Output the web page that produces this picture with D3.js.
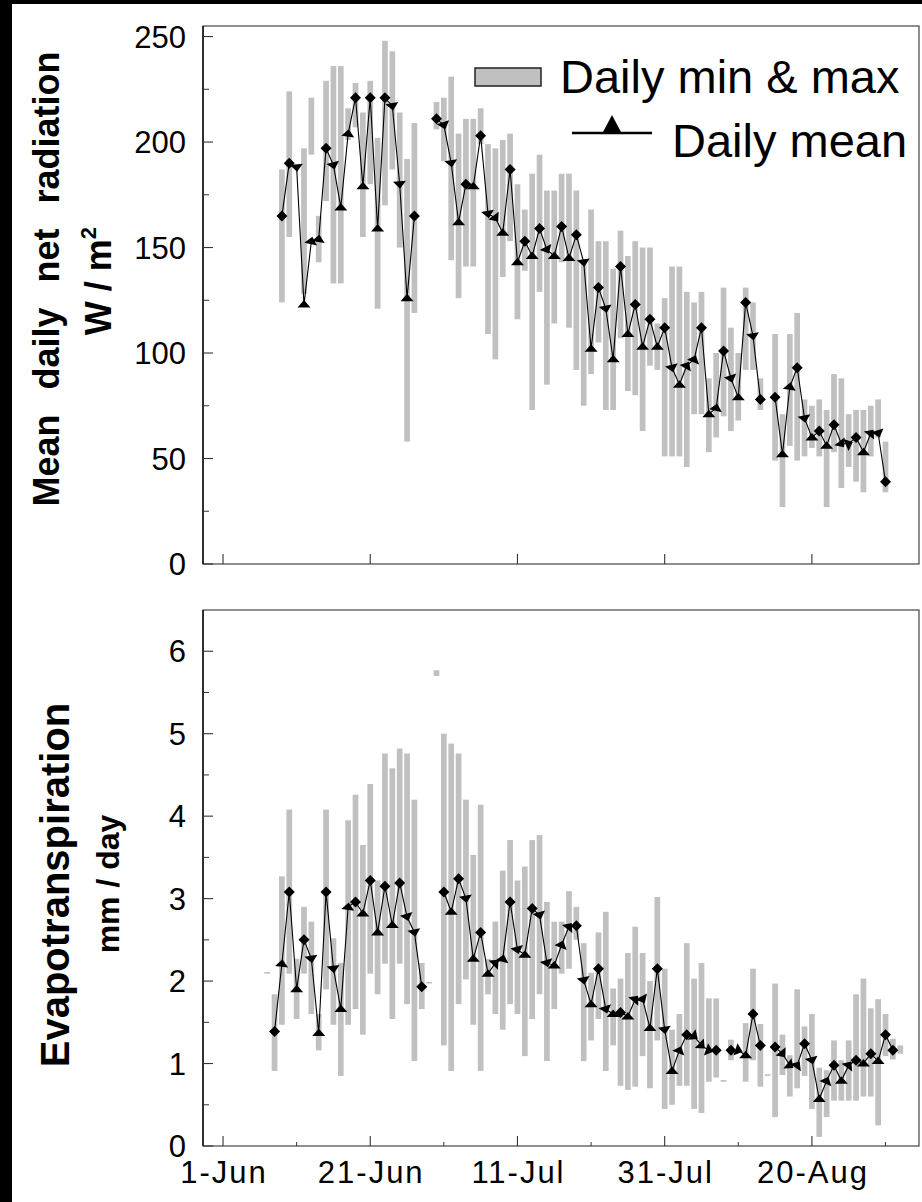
<!DOCTYPE html>
<html><head><meta charset="utf-8">
<script src="https://cdn.jsdelivr.net/npm/d3@7"></script>
<style>
html,body{margin:0;padding:0;background:#fff;}
svg{display:block;}
text{font-family:"Liberation Sans",Arial,sans-serif;fill:#000;}
</style>
</head><body>
<svg id="chart" width="922" height="1202"></svg>
<script>
// ---------- axis ticks ----------
const tickDays = [0, 20, 40, 60, 80];
const tickLabels = ["1-Jun", "21-Jun", "11-Jul", "31-Jul", "20-Aug"];
const minorTickDays = [10, 30, 50, 70, 90];
const rnTicks = [0, 50, 100, 150, 200, 250];
const rnMinorTicks = [25, 75, 125, 175, 225];
const etTicks = [0, 1, 2, 3, 4, 5, 6];
const etMinorTicks = [0.5, 1.5, 2.5, 3.5, 4.5, 5.5];

// ---------- net radiation (W/m2), day 0 = 1 June ----------
const rnDay = [8,9,10,11,12,13,14,15,16,17,18,19,20,21,22,23,24,25,26,27,28,29,30,31,32,33,34,35,36,37,38,39,40,41,42,43,44,45,46,47,48,49,50,51,52,53,54,55,56,57,58,59,60,61,62,63,64,65,66,67,68,69,70,71,72,73,74,75,76,77,78,79,80,81,82,83,84,85,86,87,88,89,90];
const rnMean = [165,190,188,123,153,154,197,189,169,204,221,179,221,159,221,217,180,126,165,null,null,211,208,190,162,180,179,203,166,164,157,187,143,153,146,159,149,146,160,145,156,143,102,131,121,97,141,109,123,103,116,103,112,93,85,94,97,112,71,74,101,88,79,124,108,78,null,79,52,84,93,69,60,63,56,66,57,57,60,53,62,62,39];
const rnMin = [124,155,null,128,194,143,172,133,133,201,207,155,180,121,170,187,150,58,119,null,null,206,191,144,126,141,141,199,109,97,136,153,116,139,73,129,85,114,143,112,92,75,90,105,73,73,107,82,80,63,94,92,51,51,51,46,71,71,53,60,70,63,68,92,92,73,null,49,27,56,49,51,55,51,27,53,36,46,39,34,51,60,34];
const rnMax = [187,224,null,197,221,165,229,236,236,216,228,214,229,202,248,243,214,192,209,null,null,219,221,231,204,211,211,216,199,197,201,204,180,168,185,194,177,177,185,185,177,143,168,153,153,140,158,146,153,150,150,114,126,141,141,129,124,129,88,100,131,112,100,131,124,88,null,109,71,109,119,78,75,78,73,90,88,71,73,73,75,78,58];

// ---------- evapotranspiration (mm/day) ----------
const etDay = [6,7,8,9,10,11,12,13,14,15,16,17,18,19,20,21,22,23,24,25,26,27,28,29,30,31,32,33,34,35,36,37,38,39,40,41,42,43,44,45,46,47,48,49,50,51,52,53,54,55,56,57,58,59,60,61,62,63,64,65,66,67,68,69,70,71,72,73,74,75,76,77,78,79,80,81,82,83,84,85,86,87,88,89,90,91,92];
const etMean = [null,1.39,2.21,3.08,1.90,2.50,2.27,1.37,3.08,2.15,1.66,2.90,2.96,2.82,3.22,2.59,3.15,2.68,3.19,2.78,2.59,1.93,null,null,3.08,2.84,3.24,3.00,2.27,2.59,2.09,2.22,2.27,2.96,2.38,2.32,2.88,2.80,2.22,2.19,2.44,2.66,2.67,2.01,1.72,2.15,1.66,1.60,1.62,1.57,1.78,1.78,1.43,2.15,1.41,0.91,1.16,1.35,1.33,1.22,1.16,1.16,null,1.16,1.16,1.10,1.60,1.22,null,1.20,1.12,0.98,0.98,1.24,1.04,0.57,0.79,0.98,0.79,0.98,1.04,1.00,1.12,1.03,1.35,1.16,null];
const etMin = [2.09,0.91,1.47,2.09,1.54,2.09,1.60,1.16,1.90,1.47,0.85,1.47,1.66,1.35,2.09,1.84,2.21,1.54,2.21,1.72,1.03,1.66,1.97,5.70,1.22,0.91,1.72,2.02,1.47,0.91,1.84,1.60,1.41,1.72,1.60,1.09,1.54,1.84,1.03,1.66,2.09,2.15,2.50,1.03,1.28,1.54,0.91,1.22,0.73,0.68,0.72,1.09,0.70,1.28,0.45,0.50,0.73,0.73,0.45,0.40,0.78,0.83,0.78,1.04,null,0.78,1.04,0.72,0.85,0.35,0.86,0.60,0.70,0.85,0.45,0.11,0.35,0.55,0.55,0.55,0.55,0.60,0.60,0.25,1.09,1.05,1.12];
const etMax = [2.11,1.84,3.27,4.08,2.27,2.90,2.72,1.60,4.08,2.52,2.22,3.95,4.26,3.65,4.39,3.22,4.76,4.58,4.82,4.76,4.20,2.22,1.99,5.77,5.00,4.88,4.76,4.20,3.53,4.14,2.27,2.72,3.34,3.71,3.22,3.39,3.71,3.77,2.96,2.72,2.72,3.09,2.90,2.46,2.10,2.59,2.84,1.91,2.03,2.34,2.66,2.34,2.00,3.02,2.15,1.41,1.60,2.46,2.03,2.22,1.79,1.79,0.80,1.29,null,1.49,2.15,1.48,0.87,1.97,1.35,1.10,1.90,1.45,1.60,0.95,0.92,1.28,1.04,1.28,1.84,2.03,1.67,1.78,1.60,1.30,1.22];

// ---------- drawing ----------
const W = 922, H = 1202;
const svg = d3.select("#chart");
svg.append("rect").attr("x", 0).attr("y", 0).attr("width", W).attr("height", 4).attr("fill", "#000");
svg.append("rect").attr("x", 0).attr("y", 0).attr("width", 12).attr("height", H).attr("fill", "#000");

const left = 203, right = 919;
const x = d3.scaleLinear().domain([-2.72, 94.55]).range([left, right]);
const barW = 5.7;

const diamond = "M0,-5.5L5.5,0L0,5.5L-5.5,0Z";
const tri = "M0,-4.5L6.5,3L-6.5,3Z";

function drawPanel(opt) {
  const g = svg.append("g");
  const y = opt.y;
  const top = y.range()[1], bottom = y.range()[0];

  // bars
  const bars = opt.days.map((d, i) => ({d, lo: opt.lo[i], hi: opt.hi[i]})).filter(b => b.lo != null);
  g.selectAll("rect.bar").data(bars).join("rect")
    .attr("class", "bar")
    .attr("x", b => x(b.d) - barW / 2)
    .attr("width", barW)
    .attr("y", b => y(b.hi))
    .attr("height", b => Math.max(1.6, y(b.lo) - y(b.hi)))
    .attr("fill", "#c0c0c0");

  // mean line
  const pts = opt.days.map((d, i) => ({d, v: opt.mean[i]}));
  const line = d3.line().defined(p => p.v != null).x(p => x(p.d)).y(p => y(p.v));
  g.append("path").attr("d", line(pts)).attr("fill", "none").attr("stroke", "#000").attr("stroke-width", 1.1);

  // markers
  pts.forEach((p, i) => {
    if (p.v == null) return;
    const prev = i > 0 ? pts[i - 1] : null;
    const next = i < pts.length - 1 ? pts[i + 1] : null;
    const hasP = prev && prev.v != null, hasN = next && next.v != null;
    const px = x(p.d), py = y(p.v);
    let path = tri, rot = 0;
    if (!hasP || !hasN) {
      path = diamond;
    } else if (p.v > prev.v && p.v > next.v) {
      path = diamond;
    } else if (p.v < prev.v && p.v < next.v) {
      path = tri; rot = 0;
    } else {
      const dx = x(next.d) - x(prev.d), dy = y(next.v) - y(prev.v);
      rot = Math.atan2(dy, dx) * 180 / Math.PI + 90;
    }
    g.append("path").attr("d", path)
      .attr("transform", `translate(${px},${py}) rotate(${rot})`)
      .attr("fill", "#000");
  });

  // frame
  g.append("rect").attr("x", left).attr("y", top).attr("width", right - left).attr("height", bottom - top)
    .attr("fill", "none").attr("stroke", "#333").attr("stroke-width", 1.1);
  g.append("line").attr("x1", left).attr("x2", left).attr("y1", top).attr("y2", bottom)
    .attr("stroke", "#111").attr("stroke-width", 1.5);

  // y ticks
  opt.yTicks.forEach(v => {
    g.append("line").attr("x1", left).attr("x2", left + 10).attr("y1", y(v)).attr("y2", y(v)).attr("stroke", "#333").attr("stroke-width", 1.1);
    g.append("text").attr("x", 186).attr("y", y(v)).attr("dy", "0.36em").attr("text-anchor", "end")
      .attr("font-size", 31).text(opt.yFmt(v));
  });
  opt.yMinor.forEach(v => {
    g.append("line").attr("x1", left).attr("x2", left + 6).attr("y1", y(v)).attr("y2", y(v)).attr("stroke", "#333").attr("stroke-width", 1);
  });

  // x ticks
  tickDays.forEach(d => {
    g.append("line").attr("x1", x(d)).attr("x2", x(d)).attr("y1", bottom).attr("y2", bottom - 10).attr("stroke", "#333").attr("stroke-width", 1.1);
  });
  if (opt.xMinor) {
    minorTickDays.forEach(d => {
      g.append("line").attr("x1", x(d)).attr("x2", x(d)).attr("y1", bottom).attr("y2", bottom - 4).attr("stroke", "#333").attr("stroke-width", 1);
    });
  }
  if (opt.xLabels) {
    tickDays.forEach((d, i) => {
      g.append("text").attr("x", x(d) + 1).attr("y", 1183).attr("text-anchor", "middle")
        .attr("font-size", 31).attr("letter-spacing", "2px").text(tickLabels[i]);
    });
  }
}

const yRn = d3.scaleLinear().domain([0, 255]).range([564, 26]);
const yEt = d3.scaleLinear().domain([0, 6.5]).range([1146, 610]);

drawPanel({y: yRn, days: rnDay, mean: rnMean, lo: rnMin, hi: rnMax,
  yTicks: rnTicks, yMinor: rnMinorTicks, yFmt: v => String(v), xMinor: false, xLabels: false});
drawPanel({y: yEt, days: etDay, mean: etMean, lo: etMin, hi: etMax,
  yTicks: etTicks, yMinor: etMinorTicks, yFmt: v => String(v), xMinor: true, xLabels: true});

// y-axis titles
svg.append("text").attr("transform", "translate(59,279) rotate(-90)").attr("text-anchor", "middle")
  .attr("font-size", 36).attr("font-weight", "bold").attr("word-spacing", "15px").text("Mean daily net radiation");
const t2 = svg.append("text").attr("transform", "translate(111,281) rotate(-90)").attr("text-anchor", "middle")
  .attr("font-size", 36).attr("font-weight", "bold");
t2.append("tspan").text("W / m");
t2.append("tspan").attr("font-size", 22).attr("dy", -15).text("2");

svg.append("text").attr("transform", "translate(69,885) rotate(-90)").attr("text-anchor", "middle")
  .attr("font-size", 40).attr("font-weight", "bold").text("Evapotranspiration");
svg.append("text").attr("transform", "translate(119,884) rotate(-90)").attr("text-anchor", "middle")
  .attr("font-size", 32).attr("font-weight", "bold").text("mm / day");

// legend
const lg = svg.append("g");
lg.append("rect").attr("x", 475).attr("y", 68).attr("width", 66).attr("height", 18)
  .attr("fill", "#c0c0c0").attr("stroke", "#222").attr("stroke-width", 1.5);
lg.append("text").attr("x", 560).attr("y", 93).attr("font-size", 47).text("Daily min & max");
lg.append("line").attr("x1", 572).attr("x2", 652).attr("y1", 133).attr("y2", 133).attr("stroke", "#000").attr("stroke-width", 2.6);
lg.append("path").attr("d", "M0,-9L9,8L-9,8Z").attr("transform", "translate(612,124)").attr("fill", "#000");
lg.append("text").attr("x", 672).attr("y", 157).attr("font-size", 47).text("Daily mean");
</script>
</body></html>
